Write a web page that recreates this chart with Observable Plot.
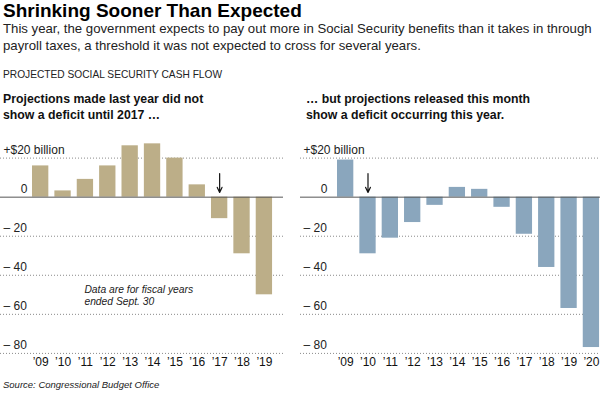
<!DOCTYPE html>
<html><head><meta charset="utf-8">
<script src="https://cdn.jsdelivr.net/npm/d3@7"></script>
<script src="https://cdn.jsdelivr.net/npm/@observablehq/plot@0.6"></script>
<style>
body{margin:0;background:#fff;font-family:"Liberation Sans",Arial,Helvetica,sans-serif;color:#111;}
#wrap{position:relative;width:600px;height:396px;overflow:hidden;}
.abs{position:absolute;white-space:nowrap;}
#title{left:3px;top:1px;font-size:19px;font-weight:bold;line-height:20px;color:#000;}
#sub{left:3px;top:20px;font-size:13.2px;line-height:17px;color:#222;}
#kicker{left:3px;top:69px;font-size:10.2px;line-height:12px;color:#222;}
.head{top:90.5px;font-size:12.3px;font-weight:bold;line-height:16.5px;color:#111;}
#headL{left:3px;}
#headR{left:306px;}
#source{left:3px;top:379px;font-size:9.5px;font-style:italic;line-height:12px;color:#222;}
#chartL{left:0;top:120px;}
#chartR{left:300px;top:120px;}
</style></head>
<body>
<div id="wrap">
  <div id="title" class="abs">Shrinking Sooner Than Expected</div>
  <div id="sub" class="abs">This year, the government expects to pay out more in Social Security benefits than it takes in through<br>payroll taxes, a threshold it was not expected to cross for several years.</div>
  <div id="kicker" class="abs">PROJECTED SOCIAL SECURITY CASH FLOW</div>
  <div id="headL" class="abs head">Projections made last year did not<br>show a deficit until 2017 …</div>
  <div id="headR" class="abs head">… but projections released this month<br>show a deficit occurring this year.</div>
  <div id="chartL" class="abs"></div>
  <div id="chartR" class="abs"></div>
  <div id="source" class="abs">Source: Congressional Budget Office</div>
</div>
<script>
// ---- Data ----
const leftYears = ["’09","’10","’11","’12","’13","’14","’15","’16","’17","’18","’19"];
const leftValues = [16, 3.2, 9.1, 16, 26.3, 27.3, 20, 6.3, -11, -29, -50];
const rightYears = ["’09","’10","’11","’12","’13","’14","’15","’16","’17","’18","’19","’20"];
const rightValues = [19, -29, -21, -13, -4.2, 5, 4, -5.2, -19, -36, -57, -77];
const gridTicks = [20, -20, -40, -60, -80];
const tickValues = [20, -20, -40, -60, -80];
const tickLabels = ["+$20 billion", "– 20", "– 40", "– 60", "– 80"];
const zeroLabel = "0";
const leftArrow = [{year: "’17", from: 12.1, to: 2.4}];
const rightArrow = [{year: "’10", from: 12.1, to: 2.4}];
const noteText = ["Data are for fiscal years\nended Sept. 30"];
const noteYear = "’11";
const noteValue = -50.3;

const tan = "#bcae88";
const blue = "#8aa6bd";

function panel({years, values, color, arrows, note, marginRight, range}) {
  const data = years.map((year, i) => ({year, value: values[i]}));
  const labels = tickValues.map((v, i) => ({v, t: tickLabels[i]}));
  const marks = [
    Plot.ruleY(gridTicks, {stroke: "#8a8a8a", strokeDasharray: "1,2", strokeWidth: 1}),
    Plot.barY(data, {x: "year", y1: 0, y2: "value", fill: color}),
    Plot.ruleY([0], {stroke: "#555", strokeWidth: 1}),
    Plot.axisX({tickSize: 0, tickPadding: 4, fill: "#111"}),
    Plot.text(labels, {y: "v", text: "t", frameAnchor: "left", textAnchor: "start", dx: 3, dy: -8, fill: "#222"}),
    Plot.text([0], {y: d => d, text: () => zeroLabel, frameAnchor: "left", textAnchor: "end", dx: 27, dy: -8, fill: "#222"}),
    Plot.arrow(arrows, {x1: "year", x2: "year", y1: "from", y2: "to", stroke: "#111", strokeWidth: 1.2, headLength: 7, headAngle: 50})
  ];
  if (note) {
    marks.push(Plot.text(noteText, {x: () => noteYear, y: () => noteValue, text: d => d, textAnchor: "start", dx: -1, fontStyle: "italic", fontSize: 10.3, lineHeight: 1.13, fill: "#222"}));
  }
  return Plot.plot({
    width: 300,
    height: 252,
    marginLeft: 0,
    marginRight,
    marginTop: 37.6,
    marginBottom: 19.1,
    x: {type: "band", domain: years, range, padding: 0.27, round: false, label: null},
    y: {domain: [-80, 20], axis: null},
    style: {fontFamily: '"Liberation Sans", Arial, Helvetica, sans-serif', fontSize: "12px", background: "transparent", overflow: "visible", color: "#111"},
    marks
  });
}

document.getElementById("chartL").append(panel({
  years: leftYears, values: leftValues, color: tan, arrows: leftArrow, note: true,
  marginRight: 17, range: [25.96, 278.1]
}));
document.getElementById("chartR").append(panel({
  years: rightYears, values: rightValues, color: blue, arrows: rightArrow, note: false,
  marginRight: 0, range: [30.97, 305.1]
}));
</script>
</body></html>
